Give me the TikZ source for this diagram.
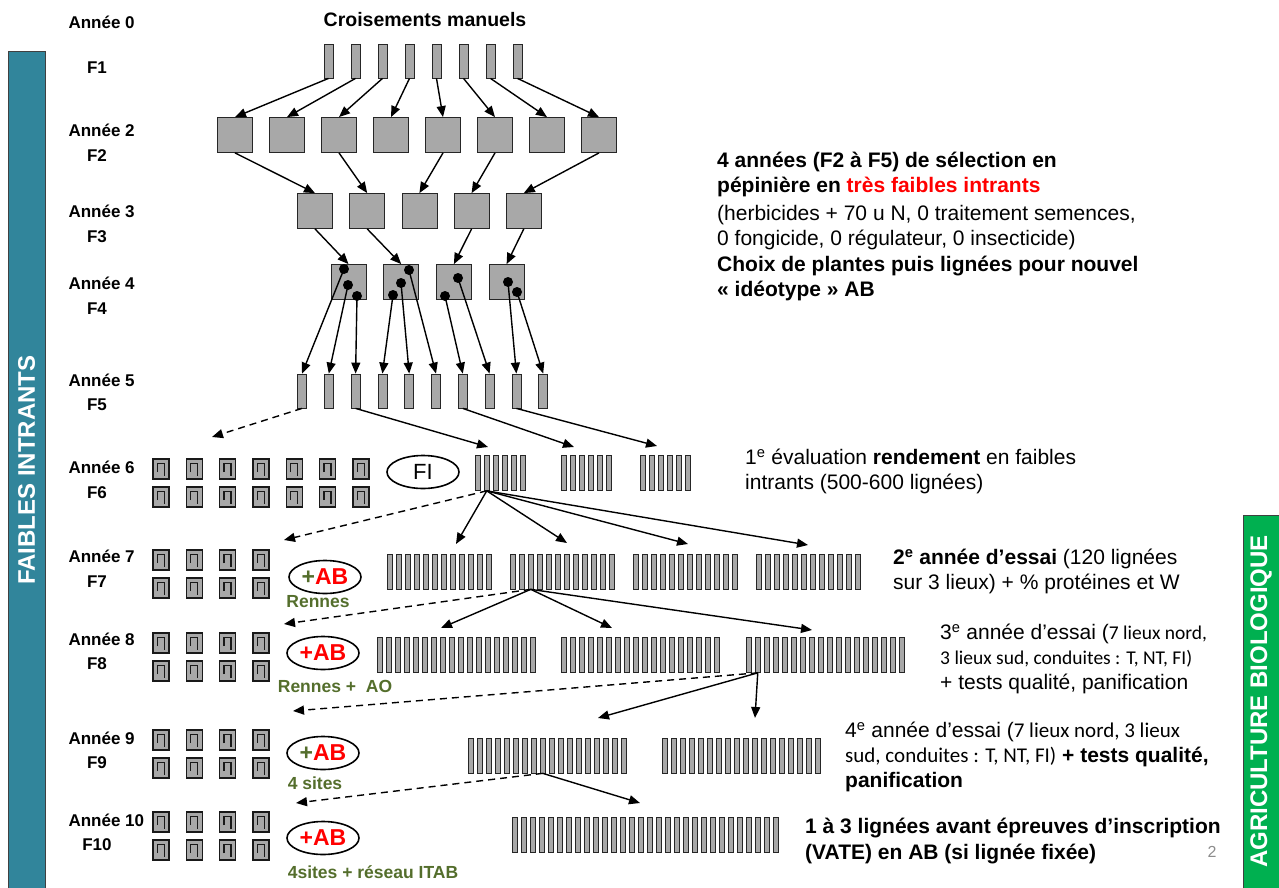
\documentclass[tikz,border=0pt]{standalone}
\usepackage{fontspec}
\setmainfont{Liberation Sans}
\newfontfamily\calibri{Carlito}
\usetikzlibrary{shapes.geometric,arrows.meta}
\definecolor{bandeFI}{RGB}{49,133,155}
\definecolor{bandeAB}{RGB}{0,176,80}
\definecolor{vertsite}{RGB}{84,110,44}
\definecolor{grisbarre}{RGB}{168,168,168}
\newcommand{\taille}[1]{\fontsize{#1}{#1}\selectfont}

\begin{document}
\begin{tikzpicture}[x=1pt,y=-1pt,
    annee/.style={anchor=west,font=\taille{17}\bfseries},
    gener/.style={font=\taille{17}\bfseries},
    barre/.style={draw=black!85,line width=0.8pt,fill=grisbarre,
        minimum width=9pt,minimum height=34pt,inner sep=0pt},
    ligne/.style={draw=black!85,line width=0.7pt,fill=grisbarre,
        minimum width=5.5pt,minimum height=35pt,inner sep=0pt},
    carre/.style={draw=black!85,line width=0.8pt,fill=grisbarre,
        minimum size=35pt,inner sep=0pt},
    point/.style={circle,fill=black,minimum size=10pt,inner sep=0pt},
    parcelle/.style={draw=black!90,line width=1.4pt,fill=grisbarre,
        minimum width=16pt,minimum height=20pt,inner sep=0pt,
        path picture={\draw[line width=1.3pt]
            ([xshift=-3.5pt,yshift=-3pt]path picture bounding box.center)
            -- ++(0,8.5pt) -- ++(7pt,0) -- ++(0,-12.5pt);}},
    essai/.style={ellipse,draw,line width=1.6pt,minimum width=72pt,
        minimum height=33pt,inner sep=0pt,font=\taille{23}\bfseries},
    lieu/.style={font=\taille{17.5}\bfseries,text=vertsite},
    bandeau/.style={draw=black!75,line width=1pt,text=white,
        font=\taille{24}\bfseries,inner sep=0pt},
    txt/.style={anchor=north west,align=left,inner sep=0pt,
        font=\fontsize{21}{25}\selectfont},
    fl/.style={-{Triangle[length=11pt,width=9pt]},line width=1.4pt},
    fp/.style={fl,dash pattern=on 7pt off 5pt}
]
    \useasboundingbox (0,0) rectangle (1279,888);

    % bandeaux
    \node[bandeau,fill=bandeFI,minimum width=836pt,minimum height=37pt,
        rotate=90] (bfi) at (26.5,470) {FAIBLES INTRANTS};
    \node[bandeau,fill=bandeAB,minimum width=373pt,minimum height=36pt,
        rotate=90] (bab) at (1261,701.5) {AGRICULTURE BIOLOGIQUE};

    % annees et generations
    \foreach \n/\y in {0/22,2/130,3/211,4/283,5/380,6/467,7/556,8/639,9/738,10/820}
        \node[annee] (an\n) at (65,\y) {Année \n};
    \foreach \n/\y in {1/68,2/156,3/237,4/309,5/405,6/493,7/582,8/664,9/763,10/845}
        \node[gener] (gen\n) at (97,\y) {F\n};

    \node[font=\taille{19.5}\bfseries] (crois) at (425,20) {Croisements manuels};

    % F1 a F5
    \foreach \i in {1,...,8}
        \node[barre] (f1-\i) at ({328.5+27*(\i-1)},61) {};
    \foreach \i in {1,...,8}
        \node[carre] (f2-\i) at ({235+52*(\i-1)},135) {};
    \foreach \i in {1,...,5}
        \node[carre] (f3-\i) at ({315+52.2*(\i-1)},211) {};
    \foreach \i in {1,...,4}
        \node[carre] (f4-\i) at ({348.5+52.7*(\i-1)},282) {};
    \foreach \i in {1,...,10}
        \node[barre] (f5-\i) at ({302+26.8*(\i-1)},391) {};

    \node[point] (d1a) at (344,269) {};
    \node[point] (d1b) at (348,285) {};
    \node[point] (d1c) at (357,296) {};
    \node[point] (d2a) at (409,270) {};
    \node[point] (d2b) at (401,283) {};
    \node[point] (d2c) at (393,295) {};
    \node[point] (d3a) at (458,278) {};
    \node[point] (d3b) at (445,296) {};
    \node[point] (d4a) at (508,282) {};
    \node[point] (d4b) at (517,292) {};

    % lignees F6 a F10
    \foreach \g/\x in {a/475,b/561,c/640}
        \foreach \i in {1,...,6}
            \node[ligne] (f6\g-\i) at ({\x+2.75+9*(\i-1)},473) {};
    \foreach \g/\x in {a/387,b/510,c/633,d/756}
        \foreach \i in {1,...,12}
            \node[ligne] (f7\g-\i) at ({\x+2.75+9*(\i-1)},571.5) {};
    \foreach \g/\x in {a/377,b/561,c/746}
        \foreach \i in {1,...,18}
            \node[ligne] (f8\g-\i) at ({\x+2.75+9*(\i-1)},655) {};
    \foreach \g/\x in {a/468,b/662}
        \foreach \i in {1,...,18}
            \node[ligne] (f9\g-\i) at ({\x+2.75+9*(\i-1)},755.5) {};
    \foreach \i in {1,...,30}
        \node[ligne] (f10-\i) at ({512+2.75+9*(\i-1)},835) {};

    % parcelles
    \foreach \r/\y in {1/469,2/497}
        \foreach \i in {1,...,7}
            \node[parcelle] (p6-\r-\i) at ({161+33.3*(\i-1)},\y) {};
    \foreach \n/\ya/\yb in {7/560/588,8/643/671,9/740/768,10/822/850}
        \foreach \r/\y in {1/\ya,2/\yb}
            \foreach \i in {1,...,4}
                \node[parcelle] (p\n-\r-\i) at ({161+33.3*(\i-1)},\y) {};

    % conduites
    \node[essai,font=\taille{22}] (fi) at (423,472) {FI};
    \node[essai] (ab7) at (325,577) {\textcolor{vertsite}{+}\textcolor{red}{AB}};
    \node[essai] (ab8) at (323,653) {\textcolor{red}{+AB}};
    \node[essai] (ab9) at (323,753) {\textcolor{vertsite}{+}\textcolor{red}{AB}};
    \node[essai] (ab10) at (323,838) {\textcolor{red}{+AB}};
    \node[lieu] (l7) at (318,602) {Rennes};
    \node[lieu] (l8) at (335,686) {Rennes +\ \ AO};
    \node[lieu] (l9) at (315,783) {4 sites};
    \node[lieu] (l10) at (373,872) {4sites + réseau ITAB};

    % textes
    \node[txt] (t1) at (717,152) {\textbf{4 années (F2 à F5) de sélection en}\\
        \textbf{pépinière en \textcolor{red}{très faibles intrants}}\\[3pt]
        (herbicides + 70 u N, 0 traitement semences,\\
        0 fongicide, 0 régulateur, 0 insecticide)\\[1pt]
        \textbf{Choix de plantes puis lignées pour nouvel}\\
        \textbf{« idéotype » AB}};
    \node[txt] (t2) at (745,449) {1\textsuperscript{e} évaluation
        \textbf{rendement} en faibles\\ intrants (500-600 lignées)};
    \node[txt] (t3) at (893,549) {\textbf{2\textsuperscript{e} année d’essai}
        (120 lignées\\ sur 3 lieux) + \% protéines et W};
    \node[txt] (t4) at (940,624) {3\textsuperscript{e} année d’essai
        ({\calibri\fontsize{19.5}{25}\selectfont 7 lieux nord,}\\
        {\calibri\fontsize{19.5}{25}\selectfont 3 lieux sud, conduites : T, NT, FI)}\\
        + tests qualité, panification};
    \node[txt] (t5) at (845,722) {4\textsuperscript{e} année d’essai
        ({\calibri 7 lieux nord, 3 lieux}\\ {\calibri sud, conduites : T, NT, FI)}
        \textbf{+ tests qualité,}\\ \textbf{panification}};
    \node[txt,font=\fontsize{21}{26}\selectfont\bfseries] (t6) at (805,818)
        {1 à 3 lignées avant épreuves d’inscription\\ (VATE) en AB (si lignée fixée)};
    \node[text=black!45,font=\taille{16}] (num) at (1212,852) {2};

    % extremites des fleches
    \coordinate (v6) at (212,437);
    \coordinate (t6a) at (488,447);
    \coordinate (t6b) at (574,447);
    \coordinate (t6c) at (657,446);
    \coordinate (v7) at (284,540);
    \coordinate (t7a) at (456,544);
    \coordinate (t7b) at (567,543);
    \coordinate (t7c) at (688,544);
    \coordinate (t7d) at (808,545);
    \coordinate (v8) at (284,624);
    \coordinate (t8a) at (441,628);
    \coordinate (t8b) at (612,628);
    \coordinate (t8c) at (812,630);
    \coordinate (v9) at (293,711);
    \coordinate (t9a) at (598,718);
    \coordinate (t9b) at (755,718);
    \coordinate (v10) at (296,803);
    \coordinate (t10) at (640,803);

    % fleches
    \foreach \i in {1,...,8}
        \draw[fl] (f1-\i.south) -- (f2-\i.north);
    \foreach \x/\y in {1/1,3/2,5/3,6/4,8/5}
        \draw[fl] (f2-\x.south) -- (f3-\y.north);
    \foreach \x/\y in {1/1,2/2,4/3,5/4}
        \draw[fl] (f3-\x.south) -- (f4-\y.north);
    \foreach \x/\y in {d1a/1,d1b/2,d1c/3,d2c/4,d2b/5,d2a/6,d3b/7,d3a/8,d4a/9,d4b/10}
        \draw[fl] (\x.center) -- (f5-\y.north);

    \draw[fp] (f5-1.south) -- (v6);
    \foreach \x/\y in {3/t6a,7/t6b,9/t6c}
        \draw[fl] (f5-\x.south) -- (\y);
    \draw[fp] (f6a-2.south) -- (v7);
    \foreach \y in {t7a,t7b,t7c,t7d}
        \draw[fl] (f6a-2.south) -- (\y);
    \draw[fp] (f7b-3.south) -- (v8);
    \foreach \y in {t8a,t8b,t8c}
        \draw[fl] (f7b-3.south) -- (\y);
    \draw[fp] (f8c-2.south) -- (v9);
    \foreach \y in {t9a,t9b}
        \draw[fl] (f8c-2.south) -- (\y);
    \draw[fp] (f9a-9.south) -- (v10);
    \draw[fl] (f9a-9.south) -- (t10);
\end{tikzpicture}
\end{document}
